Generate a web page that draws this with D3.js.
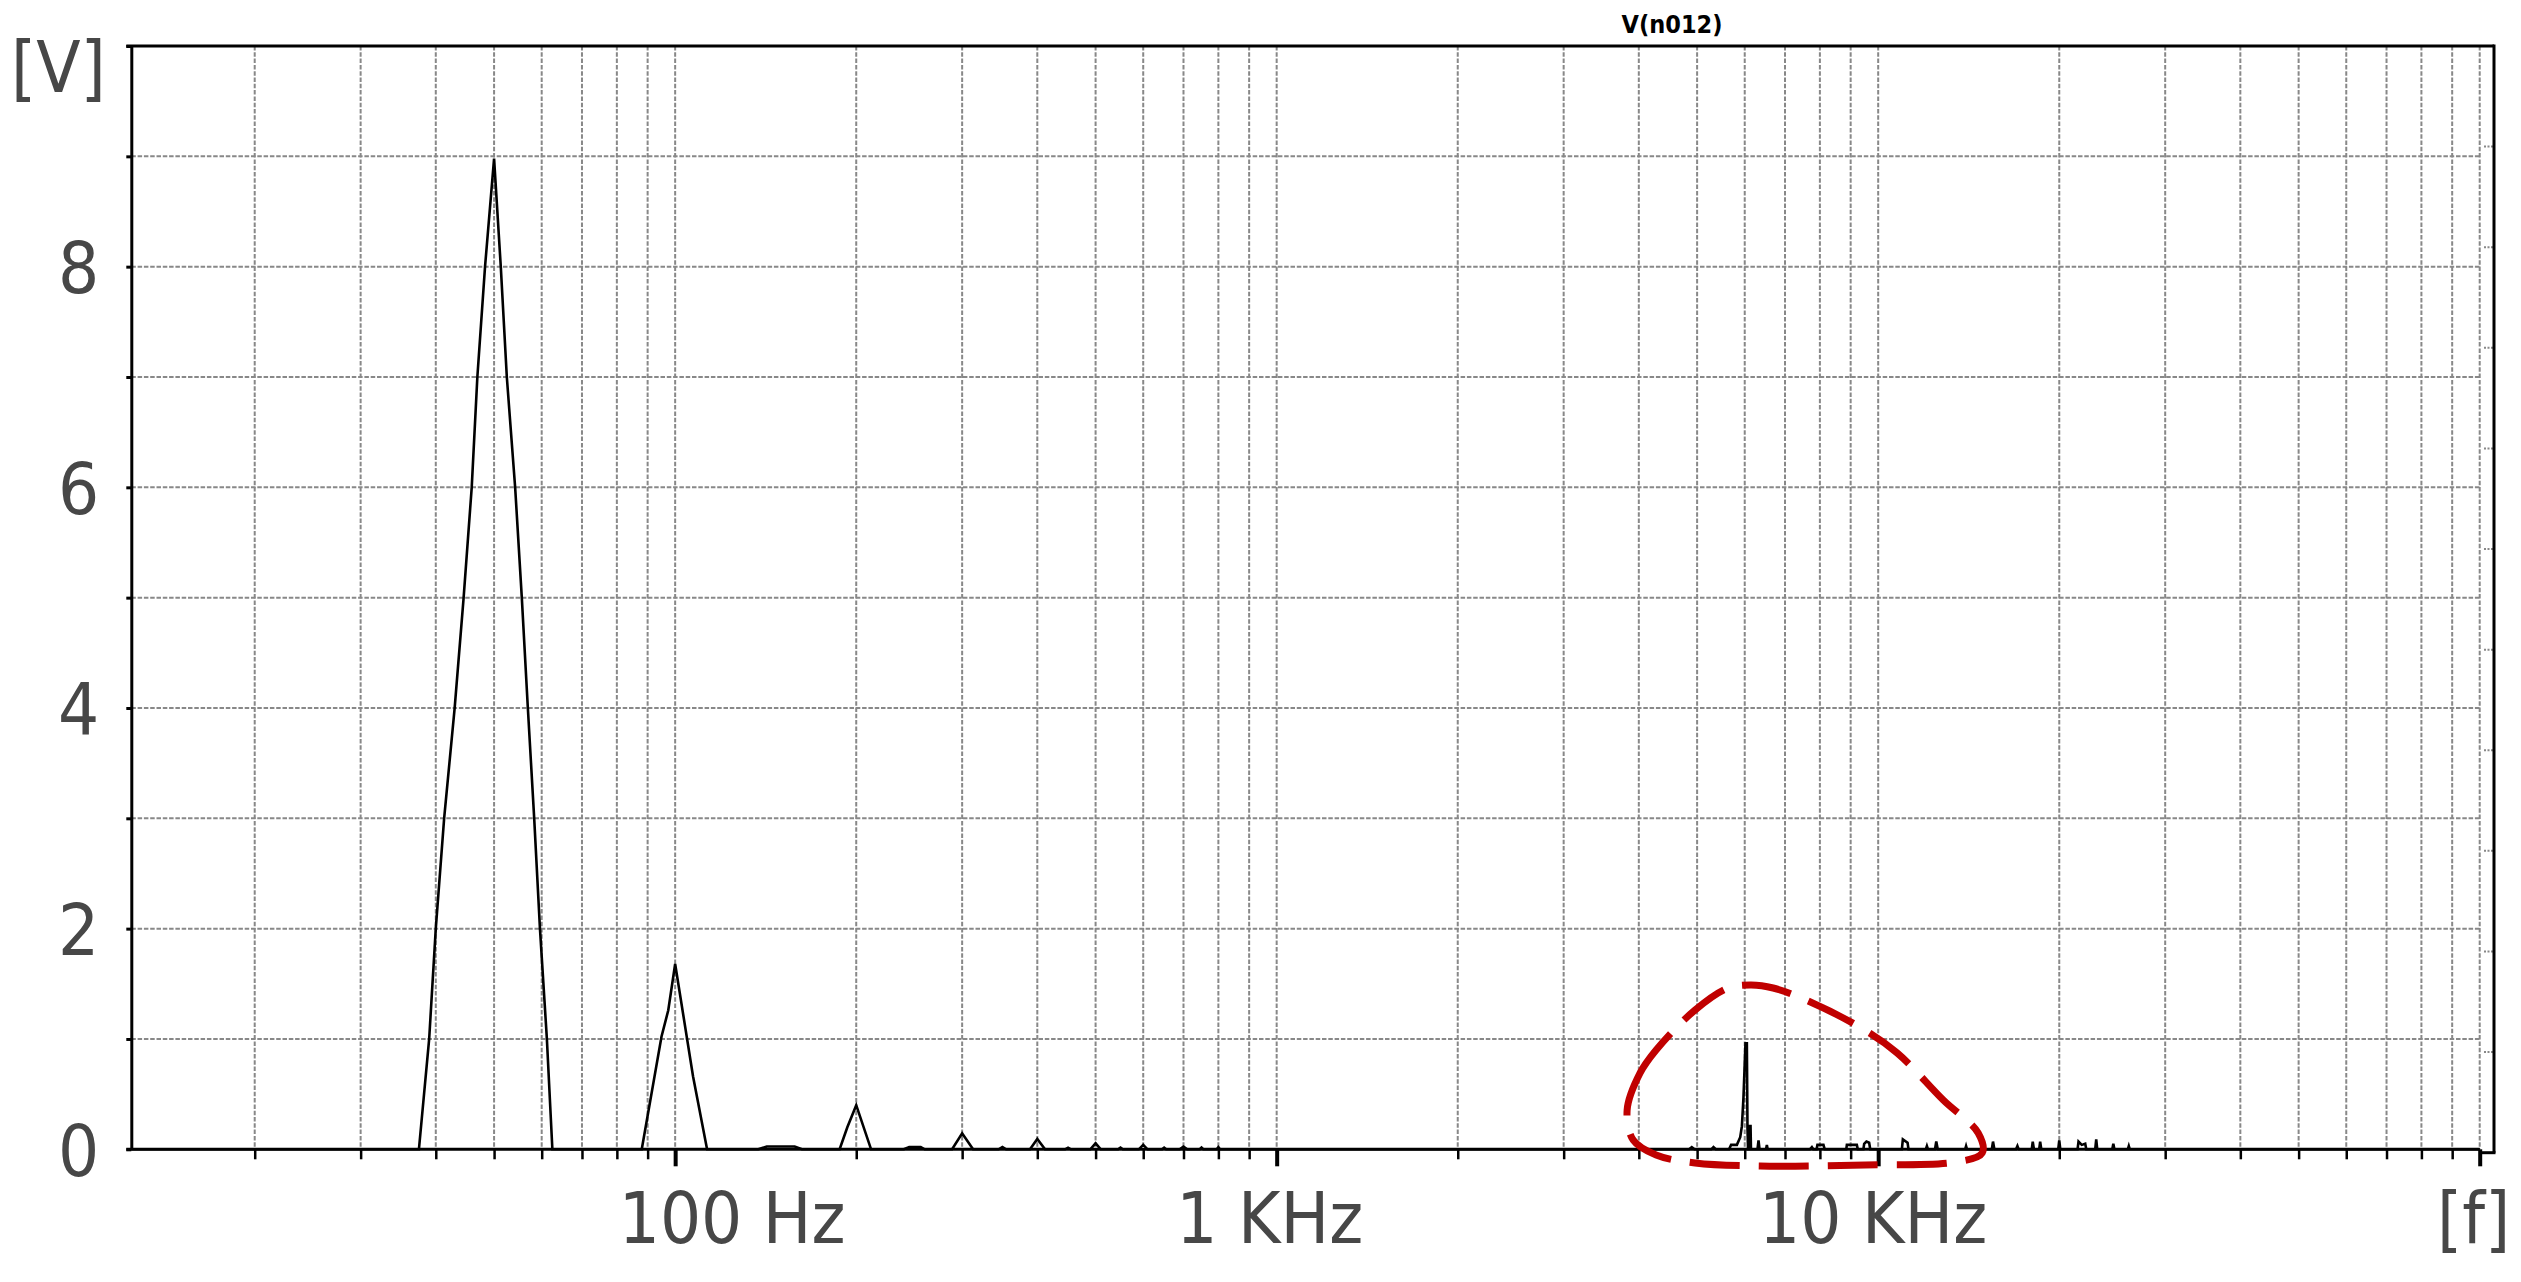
<!DOCTYPE html>
<html>
<head>
<meta charset="utf-8">
<script src="https://cdn.jsdelivr.net/npm/d3@7"></script>
<style>
  html, body { margin: 0; padding: 0; background: #fff; }
  svg { display: block; }
  .lbl { font-family: "DejaVu Sans Condensed", "DejaVu Sans", sans-serif; font-stretch: condensed; font-size: 72px; fill: #474747; }
</style>
</head>
<body>
<svg id="chart" width="2521" height="1282"></svg>
<script>
// spectrum of V(n012)
var freqHz = [12.47, 37.5, 39, 40, 41.3, 43, 44.5, 45.9, 46.9, 48.3, 50, 51.3, 52.5, 54.2, 55.6, 56.9, 58.3, 59.6, 61.2, 62.5,
  88, 94.9, 97.4, 100, 107.1, 113,
  137.5, 142, 158, 162.5,
  187.7, 193.3, 200, 211.7,
  240, 245, 256, 260,
  288.7, 300, 312.8,
  345, 350, 355,
  389, 400, 412,
  445, 450, 455,
  490, 500, 510,
  545, 550, 555,
  590, 600, 610,
  645, 650, 655,
  690, 700, 710,
  745, 750, 755,
  795, 800, 805,
  4850, 4899, 4950,
  5280, 5323, 5370,
  5650, 5695, 5822, 5897, 5935, 5971, 6017, 6049, 6063, 6076, 6110, 6118, 6135, 6145, 6300, 6325, 6350, 6510, 6530, 6550,
  7700, 7758, 7800,
  7900, 7925, 8110, 8150,
  8850, 8870, 9215, 9250,
  9450, 9478, 9560, 9660, 9700,
  10950, 10990, 11190, 11230,
  12000, 12050, 12100,
  12430, 12490, 12560,
  13950, 14000, 14050,
  15450, 15520, 15600,
  16950, 17040, 17120,
  18000, 18070, 18150, 18520, 18590, 18670,
  19920, 20000, 20080,
  21450, 21530, 21800, 22090, 22180,
  22950, 23040, 23130,
  24500, 24600, 24700,
  26000, 26100, 26200,
  100000]
var volts = [0, 0, 1, 2, 3, 4, 5, 6, 7, 8, 8.98, 8, 7, 6, 5, 4, 3, 2, 1, 0,
  0, 1.02, 1.26, 1.68, 0.66, 0,
  0, 0.025, 0.025, 0,
  0, 0.2, 0.4, 0,
  0, 0.02, 0.02, 0,
  0, 0.145, 0,
  0, 0.02, 0,
  0, 0.094, 0,
  0, 0.015, 0,
  0, 0.054, 0,
  0, 0.015, 0,
  0, 0.04, 0,
  0, 0.015, 0,
  0, 0.025, 0,
  0, 0.015, 0,
  0, 0.02, 0,
  0, 0.02, 0,
  0, 0.02, 0,
  0, 0.04, 0.04, 0.11, 0.21, 0.47, 0.96, 0.96, 0.2, 0, 0, 0.21, 0.21, 0, 0, 0.08, 0, 0, 0.04, 0,
  0, 0.02, 0,
  0, 0.04, 0.04, 0,
  0, 0.04, 0.04, 0,
  0, 0.05, 0.07, 0.06, 0,
  0, 0.09, 0.06, 0,
  0, 0.03, 0,
  0, 0.07, 0,
  0, 0.03, 0,
  0, 0.07, 0,
  0, 0.03, 0,
  0, 0.07, 0, 0, 0.07, 0,
  0, 0.08, 0,
  0, 0.07, 0.04, 0.05, 0,
  0, 0.09, 0,
  0, 0.05, 0,
  0, 0.03, 0,
  0]

// hand drawn red loop round the 6 kHz spur
var markFreq = [3825, 4020, 4274, 4962, 5631, 6150, 6689, 7588, 9369, 10755, 12828, 14664, 14890, 13480, 9515, 6365, 4962, 4274, 3915]
var markVolt = [0.356, 0.692, 0.9, 1.263, 1.462, 1.489, 1.462, 1.353, 1.1, 0.873, 0.447, 0.148, -0.034, -0.115, -0.142, -0.151, -0.124, -0.052, 0.084]

var yLabelValues = [0, 2, 4, 6, 8]
var xLabelFreqs = [100, 1000, 10000]
var xLabelTexts = ['100 Hz', '1 KHz', '10 KHz']
var xLabelShift = [57, -7, -5] // labels in the original are not quite centred
var title = 'V(n012)'

//
// Layout
//

var svg = d3.select('#chart')
var plotLeft = 131.3, plotRight = 2479.7, plotTop = 46, plotBottom = 1149.3
var frameRight = 2494

var x = d3.scaleLog().domain([12.47, 100000]).range([plotLeft, plotRight])
var y = d3.scaleLinear().domain([0, 10]).range([plotBottom, plotTop])
var yRight = d3.scaleLinear().domain([0, 11]).range([plotBottom + 3.4, plotTop])

var isDecade = function (f) { return Math.abs(Math.log10(f) - Math.round(Math.log10(f))) < 1e-6 }

// grid
var grid = svg.append('g')
  .attr('stroke', '#888')
  .attr('stroke-width', 2)
  .attr('stroke-dasharray', '4.5,1.8')

grid.selectAll('line.v')
  .data(x.ticks())
  .join('line')
  .attr('class', 'v')
  .attr('x1', d => x(d)).attr('x2', d => x(d))
  .attr('y1', plotTop).attr('y2', plotBottom)

grid.selectAll('line.h')
  .data(y.ticks(10).filter(d => d > 0 && d < 10))
  .join('line')
  .attr('class', 'h')
  .attr('x1', plotLeft).attr('x2', plotRight)
  .attr('y1', d => y(d)).attr('y2', d => y(d))

// little ticks on the right edge
svg.append('g')
  .attr('stroke', '#888')
  .attr('stroke-width', 2)
  .attr('stroke-dasharray', '2,1.5')
  .selectAll('line')
  .data(d3.range(1, 11))
  .join('line')
  .attr('x1', frameRight - 10).attr('x2', frameRight)
  .attr('y1', d => yRight(d)).attr('y2', d => yRight(d))

// frame
var frame = svg.append('g').attr('stroke', '#000').attr('stroke-width', 3).attr('fill', 'none')
frame.append('line').attr('x1', plotLeft - 5).attr('x2', frameRight).attr('y1', plotTop).attr('y2', plotTop)
frame.append('line').attr('x1', frameRight).attr('x2', frameRight).attr('y1', plotTop - 1.5).attr('y2', plotBottom + 3.4)
frame.append('line').attr('x1', plotRight).attr('x2', frameRight + 1.5).attr('y1', plotBottom + 3.4).attr('y2', plotBottom + 3.4)

// x axis
var xAxis = svg.append('g')
  .attr('transform', 'translate(0,' + plotBottom + ')')
  .call(d3.axisBottom(x).tickValues(x.ticks()).tickFormat('').tickSizeInner(10).tickSizeOuter(0))
xAxis.select('.domain').attr('stroke-width', 3).attr('d', 'M' + (plotLeft - 5) + ',0H' + plotRight)
xAxis.selectAll('.tick line')
  .attr('stroke-width', d => isDecade(d) ? 4 : 2.5)
  .attr('y2', d => isDecade(d) ? 17 : 10)

// y axis
var yAxis = svg.append('g')
  .attr('transform', 'translate(' + plotLeft + ',0)')
  .call(d3.axisLeft(y).ticks(10).tickSizeInner(5).tickSizeOuter(0).tickPadding(27)
    .tickFormat(d => yLabelValues.indexOf(d) >= 0 ? d : ''))
yAxis.select('.domain').attr('stroke-width', 3)
yAxis.selectAll('.tick line').attr('stroke-width', 3)
yAxis.selectAll('.tick text')
  .attr('class', 'lbl')
  .attr('fill', null)
  .attr('dy', '0.36em')

// x labels
svg.selectAll('text.xl')
  .data(xLabelFreqs)
  .join('text')
  .attr('class', 'lbl xl')
  .attr('text-anchor', 'middle')
  .attr('x', (d, i) => x(d) + xLabelShift[i])
  .attr('y', 1243)
  .text((d, i) => xLabelTexts[i])

svg.append('text').attr('class', 'lbl').attr('x', 11).attr('y', 92).text('[V]')
svg.append('text').attr('class', 'lbl').attr('x', 2437).attr('y', 1243).text('[f]')

svg.append('text')
  .attr('x', 1672).attr('y', 33)
  .attr('text-anchor', 'middle')
  .style('font-family', '"Liberation Sans Narrow", "DejaVu Sans Condensed", "DejaVu Sans", sans-serif')
  .style('font-stretch', 'condensed')
  .style('font-weight', 'bold')
  .style('font-size', '25px')
  .attr('fill', '#000')
  .text(title)

// spectrum
var spectrum = freqHz.map((f, i) => [f, volts[i]])
var line = d3.line().x(d => x(d[0])).y(d => y(d[1]))
svg.append('path')
  .datum(spectrum)
  .attr('fill', 'none')
  .attr('stroke', '#000')
  .attr('stroke-width', 2.6)
  .attr('stroke-linejoin', 'miter')
  .attr('d', line)

// red marker
var mark = markFreq.map((f, i) => [f, markVolt[i]])
svg.append('path')
  .datum(mark)
  .attr('fill', 'none')
  .attr('stroke', '#c00000')
  .attr('stroke-width', 7)
  .attr('stroke-dasharray', '50,19')
  .attr('d', d3.line().curve(d3.curveCatmullRomClosed.alpha(0.5)).x(d => x(d[0])).y(d => y(d[1])))
</script>
</body>
</html>
